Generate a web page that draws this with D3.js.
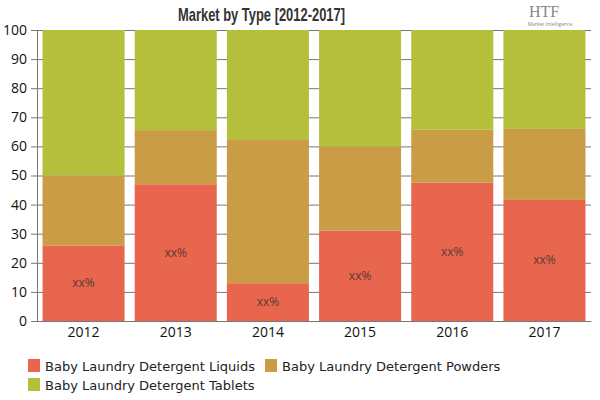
<!DOCTYPE html>
<html><head><meta charset="utf-8">
<script src="https://cdn.jsdelivr.net/npm/d3@7"></script>
<style>body{margin:0;background:#fff;} svg{display:block;}</style>
</head><body>
<svg id="c" width="600" height="400"></svg>
<script>
const years = ["2012","2013","2014","2015","2016","2017"];
const seriesNames = ["Baby Laundry Detergent Liquids","Baby Laundry Detergent Powders","Baby Laundry Detergent Tablets"];
const liquids = [26, 47, 13, 31, 47.5, 41.6];
const powders = [24, 18.6, 49.2, 29, 18.2, 24.4];
const tablets = [50, 34.4, 37.8, 40, 34.3, 34];
const colors = ["#E8664E", "#C99C45", "#B4BF3B"];
const yTicks = [0,10,20,30,40,50,60,70,80,90,100];
const barLabel = "xx%";

const svg = d3.select("#c");
const m = {l:37, r:9, t:30, b:79};
const W = 600, H = 400;
const x = d3.scaleBand().domain(years).range([m.l, W - m.r]).paddingInner(0.11).paddingOuter(0.06);
const y = d3.scaleLinear().domain([0,100]).range([H - m.b, m.t]);

const data = years.map((yr,i)=>({year:yr, s0:liquids[i], s1:powders[i], s2:tablets[i]}));
const stack = d3.stack().keys(["s0","s1","s2"])(data);

// gridlines
svg.append("g").attr("transform",`translate(${m.l},0)`)
  .call(d3.axisLeft(y).tickValues(yTicks).tickSize(-(W-m.r-m.l)).tickFormat(""))
  .call(g=>g.select(".domain").remove())
  .call(g=>g.selectAll("line").attr("stroke","#777").attr("stroke-width",1));

// bars
svg.append("g").selectAll("g").data(stack).join("g")
  .attr("fill",(d,i)=>colors[i])
  .selectAll("rect").data(d=>d).join("rect")
  .attr("x",d=>x(d.data.year))
  .attr("width",x.bandwidth())
  .attr("y",d=>y(d[1]))
  .attr("height",d=>y(d[0])-y(d[1]));

// labels
svg.append("g").selectAll("text").data(stack[0]).join("text")
  .attr("x",d=>x(d.data.year)+x.bandwidth()/2)
  .attr("y",d=>(y(d[0])+y(d[1]))/2+4)
  .attr("text-anchor","middle")
  .attr("font-family","'Open Sans', sans-serif")
  .attr("font-size",12)
  .attr("fill","#5a3a33")
  .text(barLabel);

// y axis
const ya = svg.append("g").attr("transform",`translate(${m.l},0)`)
  .call(d3.axisLeft(y).tickValues(yTicks).tickSize(6).tickPadding(4));
ya.select(".domain").attr("stroke","#777");
ya.selectAll("line").attr("stroke","#777");
ya.selectAll("text").attr("font-family","'Open Sans', sans-serif").attr("font-size",14).attr("fill","#111");

// x axis
const xa = svg.append("g").attr("transform",`translate(0,${H-m.b})`)
  .call(d3.axisBottom(x).tickSize(0).tickPadding(6));
xa.select(".domain").attr("stroke","#777");
xa.selectAll("text").attr("font-family","'Open Sans', sans-serif").attr("font-size",14).attr("fill","#111");

// title
svg.append("text").attr("x",178).attr("y",21)
  .attr("textLength",167).attr("lengthAdjust","spacingAndGlyphs")
  .attr("font-family","'Liberation Sans Narrow', 'Liberation Sans', sans-serif")
  .attr("font-weight","bold").attr("font-size",19).attr("fill","#333")
  .text("Market by Type [2012-2017]");

// logo
svg.append("text").attr("x",544).attr("y",17).attr("text-anchor","middle")
  .attr("font-family","'Liberation Serif', serif").attr("font-size",16).attr("fill","#888").text("HTF");
svg.append("text").attr("x",550).attr("y",26).attr("text-anchor","middle")
  .attr("font-family","'Open Sans', sans-serif").attr("font-size",5).attr("fill","#888").text("Market Intelligence");

// legend
const legPos = [[28,359],[265,359],[28,378]];
const lg = svg.append("g").selectAll("g").data(seriesNames).join("g")
  .attr("transform",(d,i)=>`translate(${legPos[i][0]},${legPos[i][1]})`);
lg.append("rect").attr("width",12).attr("height",13).attr("fill",(d,i)=>colors[i]);
lg.append("text").attr("x",17).attr("y",11.5)
  .attr("font-family","'DejaVu Sans', sans-serif").attr("font-size",13).attr("fill","#222")
  .text(d=>d);
</script>
</body></html>
